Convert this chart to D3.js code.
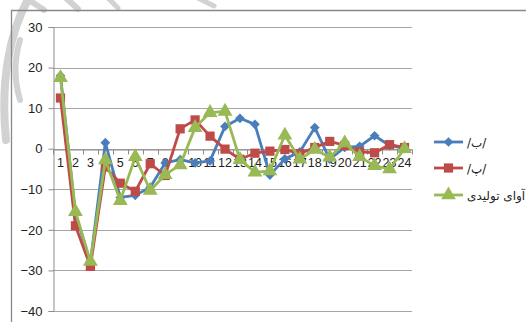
<!DOCTYPE html>
<html>
<head>
<meta charset="utf-8">
<script src="https://cdn.jsdelivr.net/npm/d3@7/dist/d3.min.js"></script>
<style>
  html, body { margin: 0; padding: 0; background: #fff; }
  svg { display: block; }
</style>
</head>
<body>
<svg id="chart" width="526" height="322"></svg>
<script>
// Categories along the x axis
const categories = d3.range(1, 25).map(String);

// Series values
const seriesB  = [18, -16, -28, 1.5, -12, -11.5, -9.5, -3.5, -2.7, -3.5, -3, 5.5, 7.5, 6, -6.5, -2.5, -0.8, 5.2, -2.6, 0.3, 0.6, 3.2, 0.8, 0];
const seriesP  = [12.5, -19, -29, -4.5, -8.5, -10.5, -3.7, -6.6, 4.9, 7.1, 3.1, -0.1, -2.6, -1.1, -0.6, -0.2, -1.2, 0.3, 1.8, 0.8, -0.8, -1, 1, 0.3];
const seriesTa = [17.5, -15.5, -27.8, -2.8, -12.8, -2, -10.3, -6.4, -4, 5.2, 8.9, 9.2, -2.7, -5.8, -5.5, 3.3, -2.6, -0.2, -2.1, 1.4, -2, -4.2, -5, 0];

const seriesNames = ["/ب/", "/پ/", "آوای تولیدی"];
const yTicks = [-40, -30, -20, -10, 0, 10, 20, 30];

const series = [
  { name: seriesNames[0], values: seriesB,  color: "#4A7EBB", marker: "diamond" },
  { name: seriesNames[1], values: seriesP,  color: "#BE4B48", marker: "square" },
  { name: seriesNames[2], values: seriesTa, color: "#98B954", marker: "triangle" }
];

const svg = d3.select("#chart");

// faint background swirls at the top-left corner
const deco = svg.append("g").attr("fill", "none").attr("stroke", "#d2d2d2").attr("stroke-linecap", "round");
deco.append("path").attr("d", "M30,-4 C10,30 0,80 6,140").attr("stroke-width", 8);
deco.append("path").attr("d", "M20,40 C14,60 14,80 20,100").attr("stroke-width", 6);
deco.append("path").attr("d", "M26,-2 L44,10").attr("stroke-width", 6);
deco.append("path").attr("d", "M66,-2 L78,9").attr("stroke-width", 6);
deco.append("path").attr("d", "M108,-2 L118,8").attr("stroke-width", 5);
deco.append("path").attr("d", "M198,-2 L214,6").attr("stroke-width", 5);

// outer chart frame
svg.append("path")
  .attr("d", "M11.5,330 L11.5,10.5 L530,10.5")
  .attr("fill", "none").attr("stroke", "#888").attr("stroke-width", 1.3);

const plot = { left: 53, right: 412, top: 27, bottom: 311 };

const x = d3.scaleBand().domain(categories).range([plot.left, plot.right]).paddingInner(0).paddingOuter(0);
const y = d3.scaleLinear().domain([-40, 30]).range([plot.bottom, plot.top]);
const cx = d => x(d) + x.bandwidth() / 2;

// horizontal gridlines
svg.append("g").selectAll("line").data(yTicks).join("line")
  .attr("x1", plot.left).attr("x2", plot.right)
  .attr("y1", d => Math.round(y(d)) + 0.5).attr("y2", d => Math.round(y(d)) + 0.5)
  .attr("stroke", "#a6a6a6").attr("stroke-width", 1);

// value axis
const yAxis = d3.axisLeft(y).tickValues(yTicks).tickSize(5).tickPadding(6).tickFormat(d3.format("d"));
const gy = svg.append("g").attr("transform", `translate(${plot.left + 0.5},0)`).call(yAxis);
gy.select(".domain").attr("stroke", "#8c8c8c");
gy.selectAll(".tick line").attr("stroke", "#8c8c8c");
gy.selectAll(".tick text")
  .attr("font-family", "'Liberation Sans', Arial, sans-serif")
  .attr("font-size", "13px").attr("fill", "#222");

// category axis crossing at zero
const zeroY = Math.round(y(0)) + 0.5;
const xAxis = d3.axisBottom(x).tickSize(0).tickPadding(9);
const gx = svg.append("g").attr("transform", `translate(0,${zeroY})`).call(xAxis);
gx.select(".domain").attr("stroke", "#8c8c8c");
gx.selectAll(".tick text")
  .attr("font-family", "'Liberation Sans', Arial, sans-serif")
  .attr("font-size", "12.5px").attr("fill", "#222");
// tick marks at category boundaries
svg.append("g").selectAll("line").data(categories.concat(["end"])).join("line")
  .attr("x1", (d, i) => Math.round(plot.left + i * x.bandwidth()) + 0.5)
  .attr("x2", (d, i) => Math.round(plot.left + i * x.bandwidth()) + 0.5)
  .attr("y1", zeroY).attr("y2", zeroY + 5)
  .attr("stroke", "#8c8c8c");

// marker shapes
const symbolFor = {
  diamond: d3.symbol().type(d3.symbolDiamond2).size(60),
  square: d3.symbol().type(d3.symbolSquare).size(85),
  triangle: d3.symbol().type(d3.symbolTriangle).size(95)
};

const line = d3.line().x((d, i) => cx(categories[i])).y(d => y(d));

series.forEach(s => {
  const g = svg.append("g");
  g.append("path").datum(s.values)
    .attr("d", line)
    .attr("fill", "none").attr("stroke", s.color)
    .attr("stroke-width", 2.8).attr("stroke-linejoin", "round");
  g.selectAll("path.marker").data(s.values).join("path")
    .attr("class", "marker")
    .attr("d", symbolFor[s.marker])
    .attr("transform", (d, i) => `translate(${cx(categories[i])},${y(d)})`)
    .attr("fill", s.color);
});

// legend
const legendY = [142, 168, 195];
const lg = svg.append("g");
series.forEach((s, i) => {
  const ly = legendY[i];
  lg.append("line").attr("x1", 434).attr("x2", 463).attr("y1", ly).attr("y2", ly)
    .attr("stroke", s.color).attr("stroke-width", 2.8);
  lg.append("path").attr("d", symbolFor[s.marker])
    .attr("transform", `translate(448.5,${ly})`).attr("fill", s.color);
  lg.append("text").attr("x", 467).attr("y", ly + 4.5)
    .attr("font-family", "'DejaVu Sans', sans-serif").attr("font-size", "12px")
    .attr("fill", "#222").attr("direction", "ltr").attr("unicode-bidi", "plaintext")
    .text(s.name);
});
</script>
</body>
</html>
